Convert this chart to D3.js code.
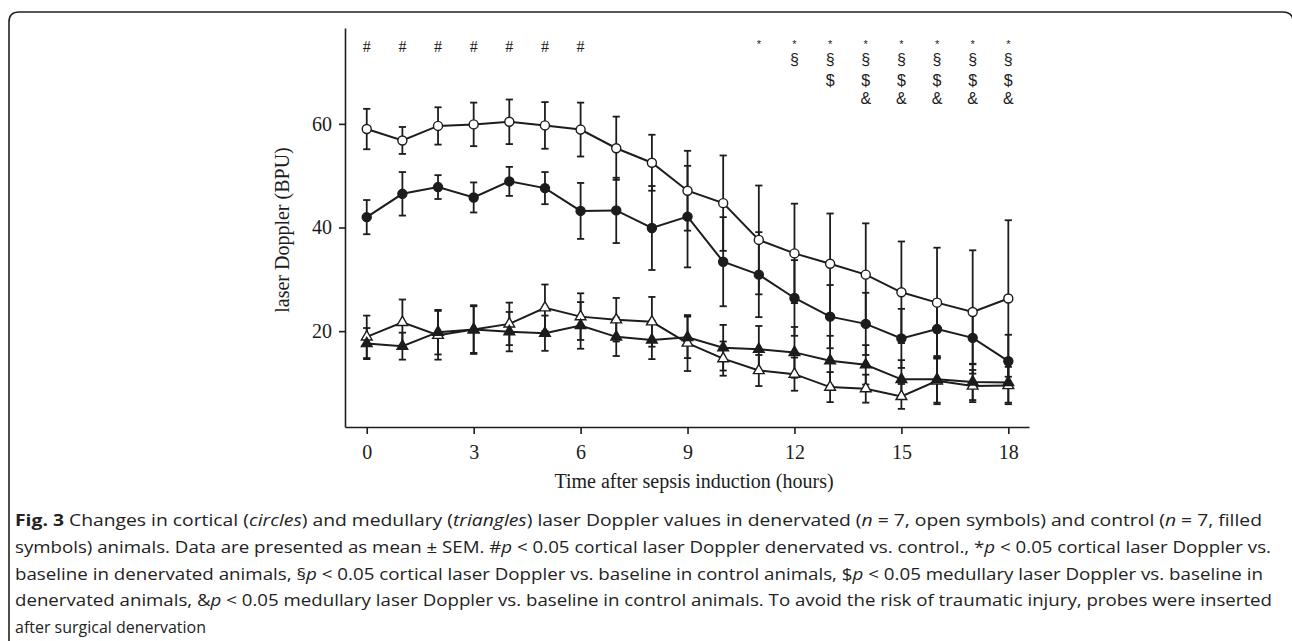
<!DOCTYPE html>
<html>
<head>
<meta charset="utf-8">
<script src="https://cdn.jsdelivr.net/npm/d3@7.9.0/dist/d3.min.js"></script>
<style>
  html, body { margin: 0; padding: 0; background: #fff; }
  svg { display: block; }
</style>
</head>
<body>
<svg id="chart" width="1292" height="641"></svg>
<script>
// hours after sepsis induction
const hours = [0, 1, 2, 3, 4, 5, 6, 7, 8, 9, 10, 11, 12, 13, 14, 15, 16, 17, 18];

// cortical, denervated (open circles)
const cortDen = [59.0, 56.8, 59.6, 59.9, 60.4, 59.7, 58.9, 55.3, 52.5, 47.1, 44.7, 37.6, 35.0, 33.0, 30.9, 27.5, 25.5, 23.7, 26.3];
const cortDenSem = [3.9, 2.6, 3.6, 4.2, 4.3, 4.5, 5.2, 6.1, 5.4, 7.7, 9.2, 10.5, 9.6, 9.7, 9.9, 9.8, 10.6, 11.9, 15.1];
// cortical, control (filled circles)
const cortCtl = [42.0, 46.5, 47.8, 45.8, 48.9, 47.6, 43.2, 43.3, 39.9, 42.1, 33.4, 30.9, 26.4, 22.8, 21.4, 18.6, 20.4, 18.7, 14.2];
const cortCtlSem = [3.3, 4.2, 2.3, 2.9, 2.8, 3.1, 5.4, 6.3, 8.1, 9.8, 8.6, 8.2, 7.3, 6.1, 6.0, 5.7, 5.7, 5.1, 5.1];
// medullary, denervated (open triangles)
const medDen = [18.9, 21.7, 19.2, 20.3, 21.4, 24.5, 22.8, 22.2, 21.8, 17.7, 14.7, 12.4, 11.7, 9.2, 8.9, 7.4, 10.4, 9.4, 9.5];
const medDenSem = [4.1, 4.4, 4.7, 4.7, 4.1, 4.5, 4.5, 4.2, 4.8, 5.4, 3.3, 3.0, 3.2, 2.9, 2.7, 2.4, 4.5, 3.1, 3.6];
// medullary, control (filled triangles)
const medCtl = [17.6, 17.1, 19.8, 20.3, 19.9, 19.6, 21.1, 18.9, 18.3, 18.8, 16.8, 16.5, 15.9, 14.3, 13.5, 10.7, 10.7, 10.2, 10.1];
const medCtlSem = [3.0, 2.6, 4.3, 4.5, 3.8, 3.4, 4.5, 3.7, 3.7, 4.0, 4.4, 4.5, 4.9, 4.8, 3.8, 3.7, 4.5, 3.5, 3.9];

const xTicks = [0, 3, 6, 9, 12, 15, 18];
const yTicks = [20, 40, 60];

// significance markers: hours where each symbol is shown
const hashHours = [0, 1, 2, 3, 4, 5, 6];
const starHours = [11, 12, 13, 14, 15, 16, 17, 18];
const sectHours = [12, 13, 14, 15, 16, 17, 18];
const dollarHours = [13, 14, 15, 16, 17, 18];
const ampHours = [14, 15, 16, 17, 18];

const captionLines = [
  [['b', 'Fig. 3'], ['', ' Changes in cortical ('], ['i', 'circles'], ['', ') and medullary ('], ['i', 'triangles'], ['', ') laser Doppler values in denervated ('], ['i', 'n'], ['', ' = 7, open symbols) and control ('], ['i', 'n'], ['', ' = 7, filled']],
  [['', 'symbols) animals. Data are presented as mean ± SEM. #'], ['i', 'p'], ['', ' < 0.05 cortical laser Doppler denervated vs. control., *'], ['i', 'p'], ['', ' < 0.05 cortical laser Doppler vs.']],
  [['', 'baseline in denervated animals, §'], ['i', 'p'], ['', ' < 0.05 cortical laser Doppler vs. baseline in control animals, $'], ['i', 'p'], ['', ' < 0.05 medullary laser Doppler vs. baseline in']],
  [['', 'denervated animals, &'], ['i', 'p'], ['', ' < 0.05 medullary laser Doppler vs. baseline in control animals. To avoid the risk of traumatic injury, probes were inserted']],
  [['', 'after surgical denervation']]
];
const captionWidths = [1247, 1256, 1248, 1257, 191];

const svg = d3.select('#chart');
const ink = '#1c1c1c';
const serif = '"Liberation Serif", "Times New Roman", serif';
const sans = '"Liberation Sans", Arial, sans-serif';
const serifSize = 20;

// frame
svg.append('path')
  .attr('d', 'M9,641 V22 Q9,12 19,12 H1283 Q1293,12 1293,22 V641')
  .attr('fill', 'none')
  .attr('stroke', '#222')
  .attr('stroke-width', 1.6);

const x = d3.scaleLinear().domain([-0.61, 18.58]).range([345, 1029]);
const y = d3.scaleLinear().domain([1.5, 78.5]).range([427, 28]);

// axes
const gx = svg.append('g')
  .attr('transform', 'translate(0,427)')
  .call(d3.axisBottom(x).tickValues(xTicks).tickSize(7).tickSizeOuter(0).tickPadding(10.5));
const gy = svg.append('g')
  .attr('transform', 'translate(345,0)')
  .call(d3.axisLeft(y).tickValues(yTicks).tickSize(6).tickSizeOuter(0).tickPadding(7));

[gx, gy].forEach((g) => {
  g.selectAll('path, line').attr('stroke', ink).attr('stroke-width', 1.6);
  g.selectAll('text').attr('font-family', serif).attr('font-size', serifSize).attr('fill', ink);
});

svg.append('text')
  .attr('x', 694).attr('y', 488)
  .attr('text-anchor', 'middle')
  .attr('font-family', serif).attr('font-size', serifSize).attr('fill', ink)
  .text('Time after sepsis induction (hours)');

svg.append('text')
  .attr('transform', 'translate(289,230) rotate(-90)')
  .attr('text-anchor', 'middle')
  .attr('font-family', serif).attr('font-size', serifSize).attr('fill', ink)
  .text('laser Doppler (BPU)');

// series
const series = [
  { values: cortDen, sem: cortDenSem, shape: d3.symbolCircle, fill: '#fff' },
  { values: cortCtl, sem: cortCtlSem, shape: d3.symbolCircle, fill: ink },
  { values: medDen, sem: medDenSem, shape: d3.symbolTriangle, fill: '#fff' },
  { values: medCtl, sem: medCtlSem, shape: d3.symbolTriangle, fill: ink },
];

const line = d3.line().x((d, i) => x(hours[i])).y((d) => y(d));
const cap = 3.6;

series.forEach((s) => {
  const bars = svg.append('g').attr('stroke', ink).attr('stroke-width', 1.8);
  s.values.forEach((v, i) => {
    const cx = x(hours[i]);
    const top = y(v + s.sem[i]);
    const bot = y(v - s.sem[i]);
    bars.append('line').attr('x1', cx).attr('x2', cx).attr('y1', top).attr('y2', bot);
    bars.append('line').attr('x1', cx - cap).attr('x2', cx + cap).attr('y1', top).attr('y2', top);
    bars.append('line').attr('x1', cx - cap).attr('x2', cx + cap).attr('y1', bot).attr('y2', bot);
  });
});

series.forEach((s) => {
  svg.append('path')
    .attr('d', line(s.values))
    .attr('fill', 'none')
    .attr('stroke', ink)
    .attr('stroke-width', 2);
});

series.forEach((s) => {
  const size = s.shape === d3.symbolCircle ? 64 : 50;
  svg.append('g')
    .selectAll('path')
    .data(s.values)
    .join('path')
    .attr('transform', (d, i) => `translate(${x(hours[i])},${y(d)})`)
    .attr('d', d3.symbol().type(s.shape).size(size))
    .attr('fill', s.fill)
    .attr('stroke', ink)
    .attr('stroke-width', 1.4);
});

// significance symbols
svg.append('g')
  .selectAll('text')
  .data(hashHours)
  .join('text')
  .attr('x', (h) => x(h))
  .attr('y', 52)
  .attr('text-anchor', 'middle')
  .attr('font-family', serif)
  .attr('font-size', 16)
  .attr('fill', ink)
  .text('#');

const rows = [
  { list: starHours, sym: '*', base: 48, size: 11 },
  { list: sectHours, sym: '§', base: 65, size: 16 },
  { list: dollarHours, sym: '$', base: 86, size: 16 },
  { list: ampHours, sym: '&', base: 104, size: 16 },
];
rows.forEach((r) => {
  svg.append('g')
    .selectAll('text')
    .data(r.list)
    .join('text')
    .attr('x', (h) => x(h))
    .attr('y', r.base)
    .attr('text-anchor', 'middle')
    .attr('font-family', sans)
    .attr('font-size', r.size)
    .attr('fill', ink)
    .text(r.sym);
});

// caption
const capFont = '"Open Sans", "Noto Sans", sans-serif';
captionLines.forEach((parts, li) => {
  const t = svg.append('text')
    .attr('x', 15)
    .attr('y', 526 + li * 26.8)
    .attr('font-family', capFont)
    .attr('font-size', 16.5)
    .attr('fill', '#222')
    .attr('textLength', captionWidths[li])
    .attr('lengthAdjust', 'spacingAndGlyphs');
  parts.forEach(([style, str]) => {
    t.append('tspan')
      .attr('font-weight', style === 'b' ? 'bold' : null)
      .attr('font-style', style === 'i' ? 'italic' : null)
      .text(str);
  });
});
</script>
</body>
</html>
